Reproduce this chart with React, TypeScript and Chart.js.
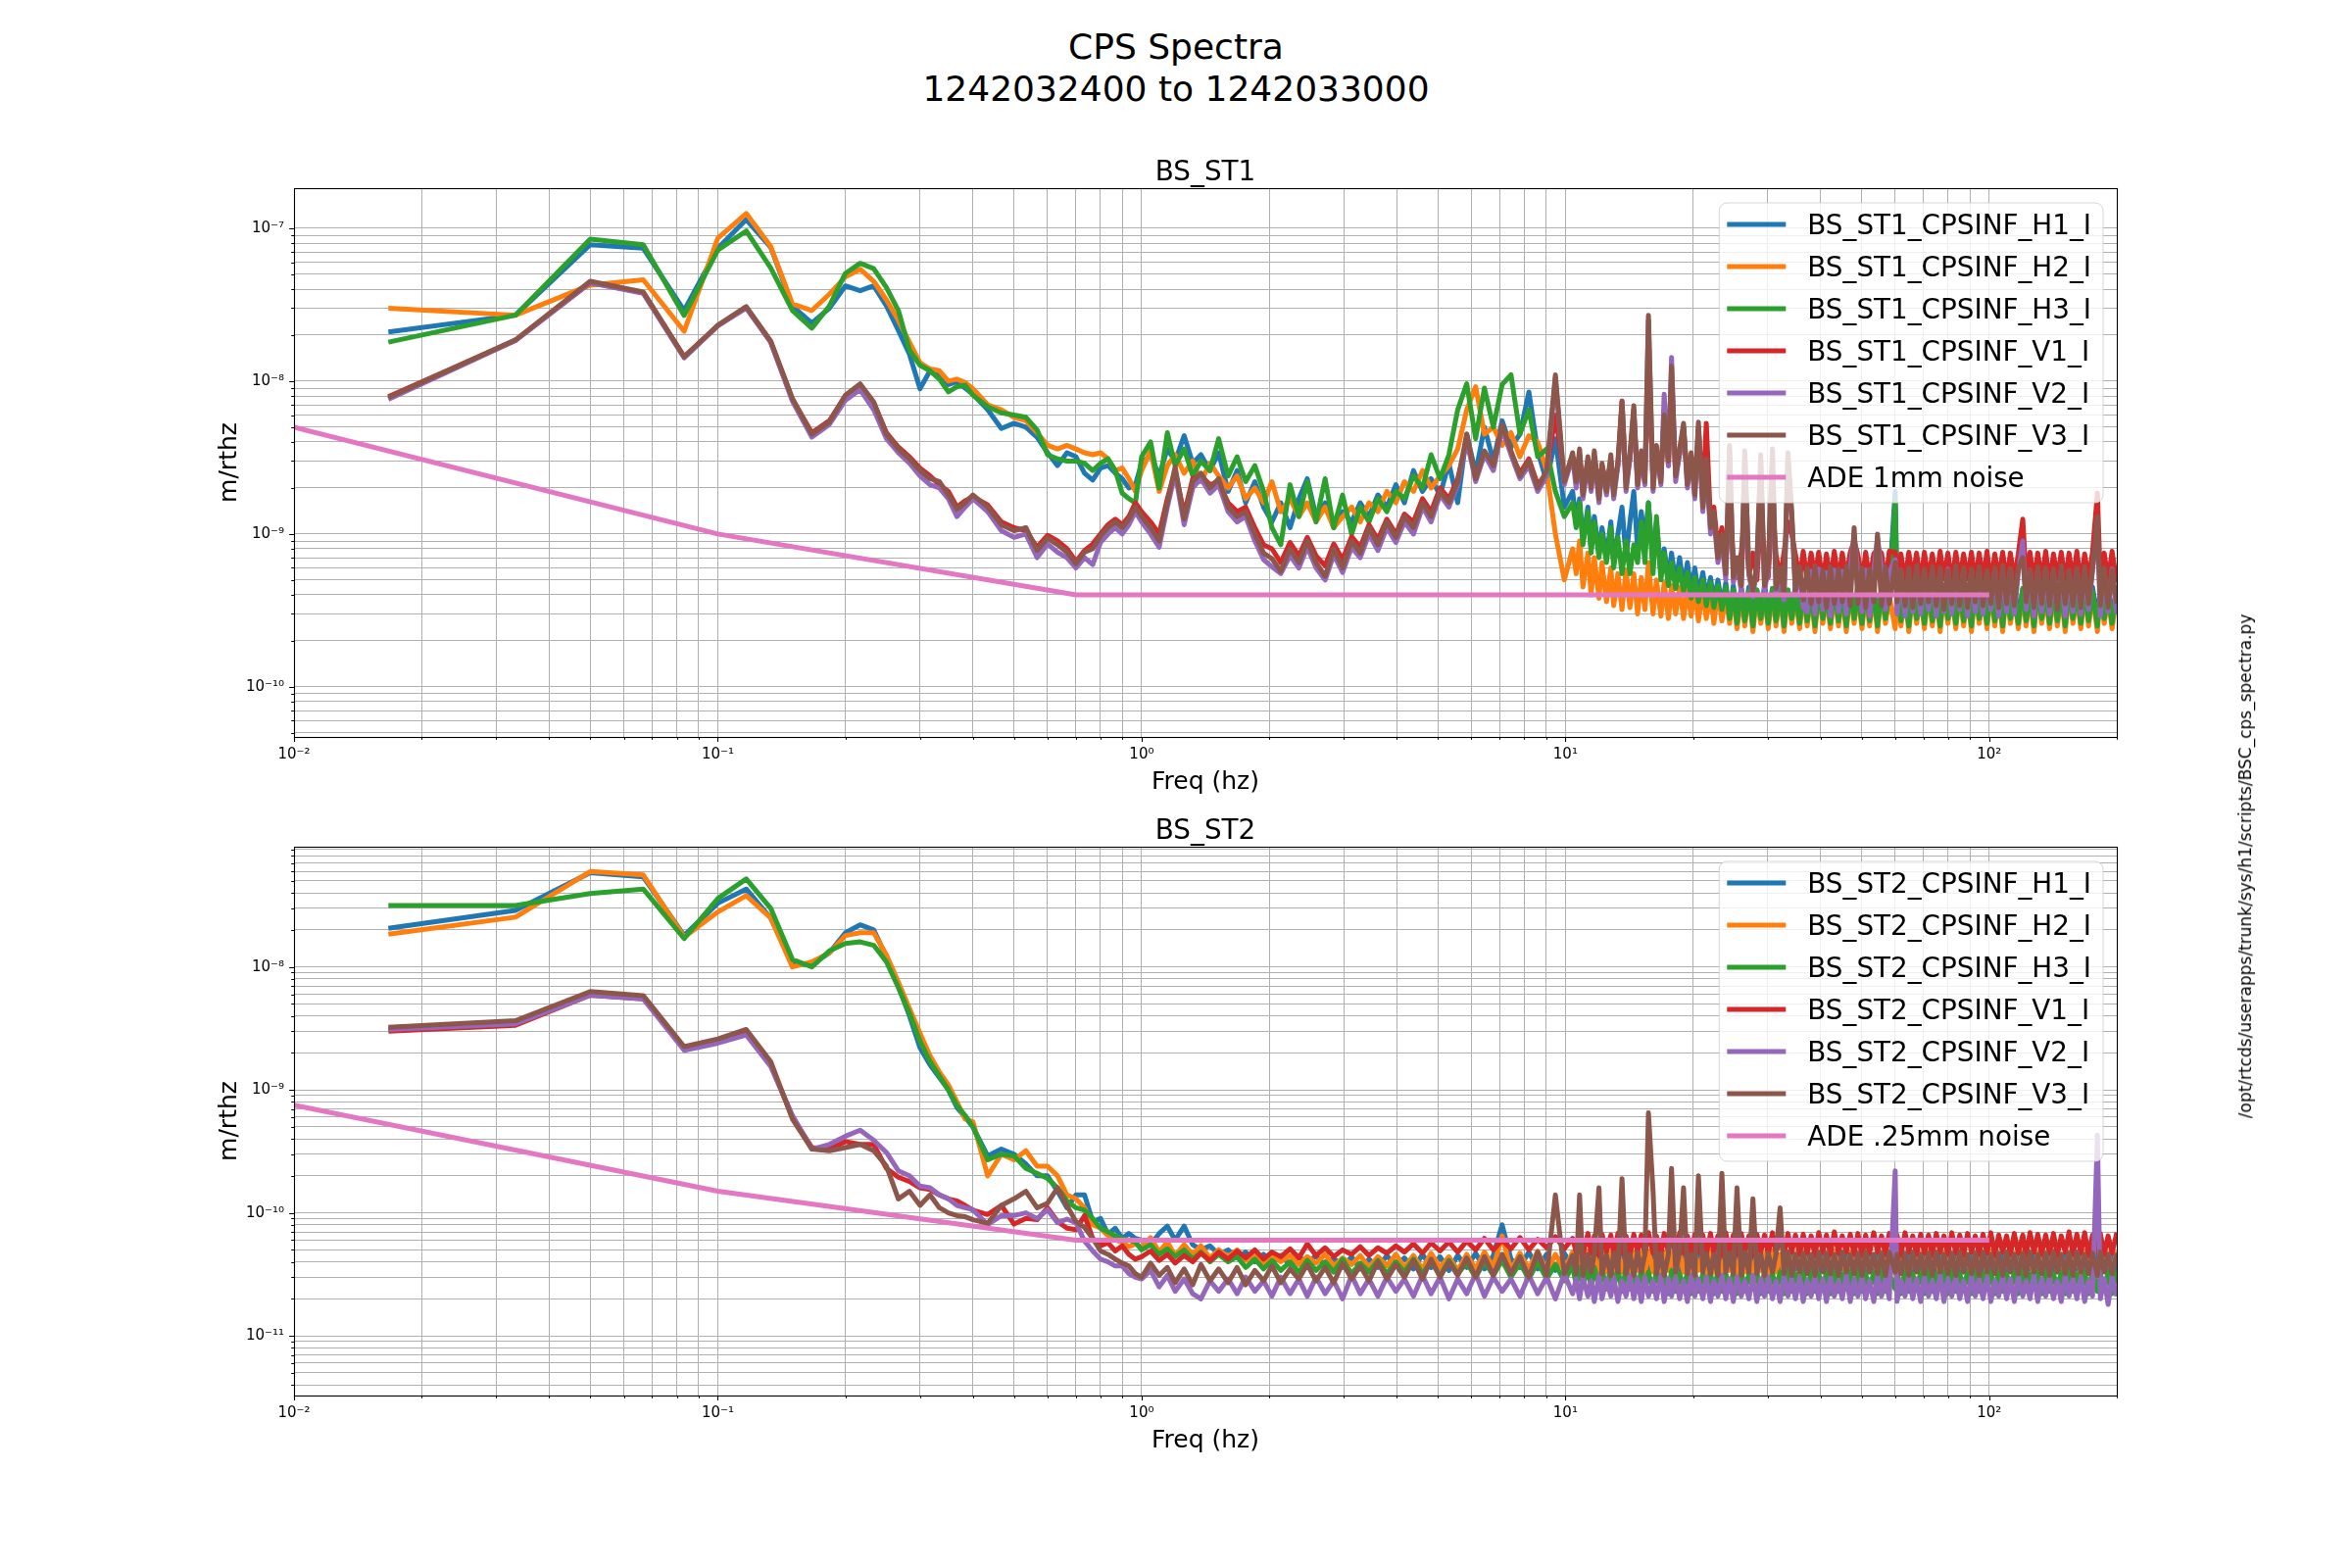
import React, { useEffect, useRef } from "react";
import { Chart, registerables } from "chart.js";

Chart.register(...registerables);

const FONT = '"DejaVu Sans", sans-serif';

// ---------------- data ----------------
// frequency bins, Hz, 0.0167 .. 10.4 (shared by every CPS channel)
const FREQ = [
  0.0167, 0.0333, 0.05, 0.0667, 0.0833, 0.1, 0.1167, 0.1333, 0.15, 0.1667,
  0.1833, 0.2, 0.2167, 0.2333, 0.25, 0.2667, 0.2833, 0.3, 0.3167, 0.3333,
  0.35, 0.3667, 0.3833, 0.4, 0.4333, 0.4667, 0.5, 0.5333, 0.5667, 0.6,
  0.6333, 0.6667, 0.7, 0.7333, 0.7667, 0.8, 0.8333, 0.8667, 0.9, 0.9333, 0.9667,
  1.0, 1.05, 1.1, 1.15, 1.2, 1.26, 1.32, 1.38, 1.45, 1.52,
  1.6, 1.68, 1.76, 1.85, 1.94, 2.03, 2.13, 2.24, 2.35, 2.46,
  2.58, 2.71, 2.84, 2.98, 3.13, 3.28, 3.44, 3.61, 3.79, 3.98,
  4.17, 4.38, 4.6, 4.82, 5.06, 5.31, 5.57, 5.85, 6.14, 6.44,
  6.76, 7.09, 7.44, 7.81, 8.2, 8.6, 9.03, 9.47, 9.94, 10.4,
];
// frequency bins, Hz, 10.6 .. 200
const FREQ_HI = [
  10.6, 10.8, 11.0, 11.3, 11.5, 11.7, 12.0, 12.2, 12.5, 12.8,
  13.0, 13.3, 13.6, 13.9, 14.2, 14.5, 14.8, 15.1, 15.4, 15.7,
  16.1, 16.4, 16.8, 17.1, 17.5, 17.8, 18.2, 18.6, 19.0, 19.4,
  19.8, 20.2, 20.6, 21.1, 21.5, 22.0, 22.4, 22.9, 23.4, 23.9,
  24.4, 24.9, 25.4, 26.0, 26.5, 27.1, 27.7, 28.3, 28.9, 29.5,
  30.1, 30.8, 31.4, 32.1, 32.8, 33.5, 34.2, 34.9, 35.7, 36.4,
  37.2, 38.0, 38.8, 39.6, 40.5, 41.3, 42.2, 43.1, 44.1, 45.0,
  46.0, 47.0, 48.0, 49.0, 50.1, 51.1, 52.2, 53.4, 54.5, 55.7,
  56.9, 58.1, 60.0, 60.6, 61.9, 63.3, 64.6, 66.0, 67.4, 68.9,
  70.3, 71.9, 73.4, 75.0, 76.6, 78.2, 79.9, 81.6, 83.4, 85.2,
  87.0, 88.9, 90.8, 92.7, 94.7, 96.7, 98.8, 100.9, 103.1, 105.3,
  107.6, 109.9, 112.2, 114.6, 117.1, 120.0, 122.2, 124.8, 127.5, 130.2,
  133.0, 135.9, 138.8, 141.8, 144.8, 147.9, 151.1, 154.3, 157.6, 161.0,
  164.5, 168.0, 171.6, 175.3, 180.0, 182.9, 186.8, 190.8, 194.9, 200.0,
];

// ---- BS_ST1 (m/rtHz) ----
const ST1_H1 = [
  2.1e-8, 2.7e-8, 7.8e-8, 7.4e-8, 2.9e-8, 7.4e-8, 1.14e-7, 7.5e-8, 3.1e-8, 2.4e-8,
  3.0e-8, 4.2e-8, 3.9e-8, 4.2e-8, 3.1e-8, 2.15e-8, 1.5e-8, 8.9e-9, 1.17e-8, 1.09e-8,
  9.5e-9, 9.9e-9, 9.0e-9, 8.2e-9, 6.5e-9, 4.9e-9, 5.3e-9, 5.0e-9, 4.3e-9, 3.4e-9,
  2.8e-9, 3.4e-9, 3.2e-9, 2.5e-9, 2.25e-9, 2.7e-9, 2.8e-9, 2.5e-9, 2.3e-9, 2.0e-9, 2.1e-9,
  2.9e-9, 3.3e-9, 2.4e-9, 3.6e-9, 3.0e-9, 4.4e-9, 2.9e-9, 3.3e-9, 2.6e-9, 3.4e-9,
  1.9e-9, 2.6e-9, 1.6e-9, 2.2e-9, 1.5e-9, 1.2e-9, 1.6e-9, 1.1e-9, 1.7e-9, 2.3e-9,
  1.3e-9, 1.6e-9, 1.1e-9, 1.4e-9, 1.2e-9, 1.6e-9, 1.3e-9, 1.8e-9, 1.5e-9, 2.1e-9,
  1.6e-9, 2.6e-9, 1.9e-9, 2.3e-9, 1.8e-9, 2.9e-9, 1.6e-9, 4.5e-9, 2.5e-9, 5.0e-9,
  3.0e-9, 5.5e-9, 3.7e-9, 4.5e-9, 8.5e-9, 3.5e-9, 2.2e-9, 4.2e-9, 1.5e-9, 1.9e-9,
];
const ST1_H1_HI = [
  1.2e-9, 1.7e-9, 9.0e-10, 1.5e-9, 8.0e-10, 1.3e-9, 7.5e-10, 1.1e-9, 7.0e-10, 1.2e-9,
  6.5e-10, 1.0e-9, 1.5e-9, 7.0e-10, 1.2e-9, 1.9e-9, 8.0e-10, 1.4e-9, 9.0e-10, 1.6e-9,
  6.5e-10, 1.2e-9, 5.5e-10, 8.0e-10, 5.0e-10, 7.5e-10, 4.8e-10, 7.0e-10, 4.5e-10, 6.5e-10,
  4.3e-10, 6.0e-10, 4.0e-10, 5.6e-10, 3.8e-10, 5.2e-10, 3.6e-10, 5.0e-10, 3.4e-10, 4.8e-10,
  3.0e-10, 4.6e-10, 2.9e-10, 4.4e-10, 3.1e-10, 4.5e-10, 2.8e-10, 4.3e-10, 3.0e-10, 4.6e-10,
  2.9e-10, 4.4e-10, 3.0e-10, 4.5e-10, 2.8e-10, 4.3e-10, 3.1e-10, 4.6e-10, 2.9e-10, 4.4e-10,
  3.0e-10, 4.5e-10, 2.8e-10, 4.3e-10, 3.1e-10, 4.6e-10, 2.9e-10, 4.4e-10, 3.0e-10, 4.5e-10,
  2.8e-10, 4.3e-10, 3.1e-10, 4.6e-10, 2.9e-10, 4.4e-10, 3.0e-10, 4.5e-10, 2.8e-10, 4.3e-10,
  3.1e-10, 4.6e-10, 1.9e-9, 4.4e-10, 3.0e-10, 4.5e-10, 2.8e-10, 4.3e-10, 3.1e-10, 4.6e-10,
  2.9e-10, 4.4e-10, 3.0e-10, 4.5e-10, 2.8e-10, 4.3e-10, 3.1e-10, 4.6e-10, 2.9e-10, 4.4e-10,
  3.0e-10, 4.5e-10, 2.8e-10, 4.3e-10, 3.1e-10, 4.6e-10, 2.9e-10, 4.4e-10, 3.0e-10, 4.5e-10,
  2.8e-10, 4.3e-10, 3.1e-10, 4.6e-10, 2.9e-10, 4.4e-10, 3.0e-10, 4.5e-10, 2.8e-10, 4.3e-10,
  3.1e-10, 4.6e-10, 2.9e-10, 4.4e-10, 3.0e-10, 4.5e-10, 2.8e-10, 4.3e-10, 3.1e-10, 4.6e-10,
  2.9e-10, 4.4e-10, 3.0e-10, 4.5e-10, 2.8e-10, 4.3e-10, 3.1e-10, 4.6e-10, 2.9e-10, 4.4e-10,
];
const ST1_H2 = [
  3.0e-8, 2.7e-8, 4.25e-8, 4.6e-8, 2.12e-8, 8.6e-8, 1.25e-7, 7.6e-8, 3.2e-8, 2.9e-8,
  3.7e-8, 4.8e-8, 5.4e-8, 4.5e-8, 3.4e-8, 2.5e-8, 1.8e-8, 1.32e-8, 1.2e-8, 1.17e-8,
  1.0e-8, 1.03e-8, 9.8e-9, 8.9e-9, 7.0e-9, 6.5e-9, 5.8e-9, 5.5e-9, 4.6e-9, 3.8e-9,
  3.6e-9, 3.8e-9, 3.6e-9, 3.4e-9, 3.3e-9, 3.4e-9, 3.1e-9, 2.6e-9, 2.7e-9, 2.3e-9, 1.9e-9,
  2.6e-9, 3.5e-9, 1.9e-9, 2.8e-9, 3.3e-9, 2.5e-9, 3.0e-9, 2.2e-9, 2.9e-9, 2.4e-9,
  2.0e-9, 2.4e-9, 1.7e-9, 2.0e-9, 1.6e-9, 2.2e-9, 1.4e-9, 1.7e-9, 1.3e-9, 1.6e-9,
  1.2e-9, 1.5e-9, 1.1e-9, 1.3e-9, 1.5e-9, 1.2e-9, 1.6e-9, 1.4e-9, 1.9e-9, 1.6e-9,
  2.2e-9, 1.9e-9, 2.6e-9, 2.0e-9, 2.4e-9, 2.8e-9, 3.6e-9, 6.5e-9, 9.2e-9, 4.5e-9,
  5.0e-9, 3.8e-9, 4.6e-9, 3.2e-9, 4.4e-9, 4.0e-9, 2.6e-9, 1.0e-9, 5.0e-10, 8.0e-10,
];
const ST1_H2_HI = [
  5.5e-10, 9.0e-10, 4.5e-10, 7.5e-10, 4.0e-10, 7.0e-10, 3.8e-10, 6.5e-10, 3.6e-10, 6.0e-10,
  3.4e-10, 5.5e-10, 3.2e-10, 5.8e-10, 3.3e-10, 5.5e-10, 3.0e-10, 5.2e-10, 3.2e-10, 6.5e-10,
  3.0e-10, 5.0e-10, 2.9e-10, 4.8e-10, 2.8e-10, 4.6e-10, 3.0e-10, 4.5e-10, 2.8e-10, 4.4e-10,
  2.9e-10, 4.3e-10, 2.7e-10, 4.2e-10, 2.8e-10, 4.1e-10, 2.6e-10, 4.2e-10, 2.7e-10, 4.0e-10,
  2.6e-10, 4.1e-10, 2.4e-10, 3.9e-10, 2.5e-10, 4.2e-10, 2.3e-10, 4.0e-10, 2.6e-10, 3.9e-10,
  2.4e-10, 4.1e-10, 2.5e-10, 4.0e-10, 2.3e-10, 4.2e-10, 2.6e-10, 3.9e-10, 2.4e-10, 4.1e-10,
  2.5e-10, 4.0e-10, 2.3e-10, 4.2e-10, 2.6e-10, 3.9e-10, 2.4e-10, 4.1e-10, 2.5e-10, 4.0e-10,
  2.3e-10, 4.2e-10, 2.6e-10, 3.9e-10, 2.4e-10, 4.1e-10, 2.5e-10, 4.0e-10, 2.3e-10, 4.2e-10,
  2.6e-10, 3.9e-10, 2.4e-10, 4.1e-10, 2.5e-10, 4.0e-10, 2.3e-10, 4.2e-10, 2.6e-10, 3.9e-10,
  2.4e-10, 4.1e-10, 2.5e-10, 4.0e-10, 2.3e-10, 4.2e-10, 2.6e-10, 3.9e-10, 2.4e-10, 4.1e-10,
  2.5e-10, 4.0e-10, 2.3e-10, 4.2e-10, 2.6e-10, 3.9e-10, 2.4e-10, 4.1e-10, 2.5e-10, 4.0e-10,
  2.3e-10, 4.2e-10, 2.6e-10, 3.9e-10, 2.4e-10, 4.1e-10, 2.5e-10, 4.0e-10, 2.3e-10, 4.2e-10,
  2.6e-10, 3.9e-10, 2.4e-10, 4.1e-10, 2.5e-10, 4.0e-10, 2.3e-10, 4.2e-10, 2.6e-10, 3.9e-10,
  2.4e-10, 4.1e-10, 2.5e-10, 4.0e-10, 2.3e-10, 4.2e-10, 2.6e-10, 3.9e-10, 2.4e-10, 4.1e-10,
];
const ST1_H3 = [
  1.8e-8, 2.7e-8, 8.5e-8, 7.8e-8, 2.69e-8, 7.2e-8, 9.6e-8, 5.5e-8, 2.9e-8, 2.22e-8,
  3.1e-8, 5.07e-8, 5.9e-8, 5.45e-8, 4.1e-8, 2.9e-8, 1.6e-8, 1.27e-8, 1.17e-8, 1.03e-8,
  8.5e-9, 9.2e-9, 9.4e-9, 8.1e-9, 6.8e-9, 6.2e-9, 6.0e-9, 5.8e-9, 4.8e-9, 3.3e-9,
  3.1e-9, 3.0e-9, 3.0e-9, 2.9e-9, 2.6e-9, 2.9e-9, 3.1e-9, 2.6e-9, 1.85e-9, 1.7e-9, 1.6e-9,
  3.2e-9, 4.0e-9, 2.0e-9, 4.6e-9, 2.8e-9, 3.6e-9, 2.4e-9, 3.0e-9, 2.6e-9, 4.2e-9,
  2.4e-9, 3.2e-9, 2.2e-9, 2.8e-9, 1.9e-9, 1.1e-9, 8.5e-10, 2.1e-9, 1.3e-9, 2.2e-9,
  1.2e-9, 2.3e-9, 1.1e-9, 1.8e-9, 1.0e-9, 1.5e-9, 1.2e-9, 1.7e-9, 1.4e-9, 1.9e-9,
  1.7e-9, 2.4e-9, 2.0e-9, 3.3e-9, 2.3e-9, 3.3e-9, 6.5e-9, 9.6e-9, 4.2e-9, 9.0e-9,
  5.0e-9, 9.5e-9, 1.1e-8, 4.5e-9, 6.5e-9, 3.2e-9, 3.6e-9, 1.9e-9, 1.3e-9, 1.6e-9,
];
const ST1_H3_HI = [
  1.1e-9, 1.6e-9, 8.5e-10, 1.4e-9, 7.5e-10, 1.2e-9, 7.0e-10, 1.0e-9, 6.5e-10, 1.1e-9,
  6.0e-10, 9.5e-10, 5.5e-10, 9.0e-10, 5.5e-10, 8.5e-10, 6.5e-10, 1.2e-9, 6.5e-10, 1.6e-9,
  5.5e-10, 1.3e-9, 5.0e-10, 7.5e-10, 4.6e-10, 6.5e-10, 4.4e-10, 6.0e-10, 4.2e-10, 5.6e-10,
  3.8e-10, 5.2e-10, 3.6e-10, 5.0e-10, 3.4e-10, 4.8e-10, 3.3e-10, 4.6e-10, 3.2e-10, 4.5e-10,
  2.8e-10, 4.3e-10, 2.6e-10, 4.4e-10, 2.7e-10, 4.2e-10, 2.5e-10, 4.3e-10, 2.8e-10, 4.1e-10,
  2.6e-10, 4.4e-10, 2.7e-10, 4.2e-10, 2.5e-10, 4.3e-10, 2.8e-10, 4.1e-10, 2.6e-10, 4.4e-10,
  2.7e-10, 4.2e-10, 2.5e-10, 4.3e-10, 2.8e-10, 4.1e-10, 2.6e-10, 4.4e-10, 2.7e-10, 4.2e-10,
  2.5e-10, 4.3e-10, 2.8e-10, 4.1e-10, 2.6e-10, 4.4e-10, 2.7e-10, 4.2e-10, 2.5e-10, 4.3e-10,
  2.8e-10, 4.1e-10, 1.6e-9, 4.4e-10, 2.7e-10, 4.2e-10, 2.5e-10, 4.3e-10, 2.8e-10, 4.1e-10,
  2.6e-10, 4.4e-10, 2.7e-10, 4.2e-10, 2.5e-10, 4.3e-10, 2.8e-10, 4.1e-10, 2.6e-10, 4.4e-10,
  2.7e-10, 4.2e-10, 2.5e-10, 4.3e-10, 2.8e-10, 4.1e-10, 2.6e-10, 4.4e-10, 2.7e-10, 4.2e-10,
  2.5e-10, 4.3e-10, 2.8e-10, 4.1e-10, 2.6e-10, 4.4e-10, 2.7e-10, 4.2e-10, 2.5e-10, 4.3e-10,
  2.8e-10, 4.1e-10, 2.6e-10, 4.4e-10, 2.7e-10, 4.2e-10, 2.5e-10, 4.3e-10, 2.8e-10, 4.1e-10,
  2.6e-10, 4.4e-10, 2.7e-10, 4.2e-10, 2.5e-10, 4.3e-10, 2.8e-10, 4.1e-10, 2.6e-10, 4.4e-10,
];
const ST1_V1 = [
  7.9e-9, 1.85e-8, 4.4e-8, 3.8e-8, 1.45e-8, 2.3e-8, 3.05e-8, 1.8e-8, 7.6e-9, 4.6e-9,
  5.5e-9, 8.0e-9, 9.3e-9, 7.2e-9, 4.6e-9, 3.7e-9, 3.2e-9, 2.7e-9, 2.4e-9, 2.1e-9,
  1.9e-9, 1.5e-9, 1.65e-9, 1.75e-9, 1.55e-9, 1.2e-9, 1.1e-9, 1.05e-9, 8.2e-10, 9.8e-10,
  9.0e-10, 8.0e-10, 6.6e-10, 7.8e-10, 8.6e-10, 1.0e-9, 1.15e-9, 1.25e-9, 1.15e-9, 1.3e-9, 1.6e-9,
  1.4e-9, 1.2e-9, 1.0e-9, 1.7e-9, 2.6e-9, 1.35e-9, 2.3e-9, 2.4e-9, 2.1e-9, 2.2e-9,
  1.6e-9, 1.4e-9, 1.5e-9, 1.1e-9, 8.5e-10, 8.0e-10, 6.5e-10, 8.8e-10, 7.2e-10, 9.5e-10,
  7.2e-10, 6.2e-10, 8.6e-10, 6.8e-10, 9.6e-10, 8.2e-10, 1.15e-9, 9.2e-10, 1.25e-9, 1.0e-9,
  1.35e-9, 1.2e-9, 1.7e-9, 1.4e-9, 2.0e-9, 1.7e-9, 2.3e-9, 4.0e-9, 2.4e-9, 3.3e-9,
  2.9e-9, 4.8e-9, 3.4e-9, 2.5e-9, 3.1e-9, 2.1e-9, 2.5e-9, 6.0e-9, 2.3e-9, 3.2e-9,
];
const ST1_V1_HI = [
  2.4e-9, 3.3e-9, 2.0e-9, 3.0e-9, 2.2e-9, 3.2e-9, 2.0e-9, 2.8e-9, 2.1e-9, 3.0e-9,
  2.0e-9, 2.8e-9, 7.4e-9, 2.2e-9, 3.1e-9, 6.0e-9, 2.3e-9, 3.2e-9, 2.4e-9, 1.2e-8,
  2.2e-9, 3.5e-9, 2.4e-9, 6.0e-9, 2.8e-9, 9.0e-9, 2.5e-9, 3.3e-9, 5.0e-9, 2.3e-9,
  3.2e-9, 2.0e-9, 5.0e-9, 1.7e-9, 5.3e-9, 1.2e-9, 1.5e-9, 8.0e-10, 1.1e-9, 6.5e-10,
  1.5e-9, 7.0e-10, 5.2e-10, 7.6e-10, 1.4e-9, 5.4e-10, 7.5e-10, 5.0e-10, 1.3e-9, 7.3e-10,
  5.2e-10, 1.6e-9, 7.4e-10, 5.0e-10, 7.6e-10, 1.2e-9, 1.0e-9, 7.3e-10, 5.1e-10, 7.7e-10,
  4.9e-10, 7.5e-10, 5.2e-10, 7.6e-10, 4.8e-10, 7.4e-10, 5.0e-10, 7.7e-10, 4.9e-10, 7.5e-10,
  5.1e-10, 7.6e-10, 9.0e-10, 7.3e-10, 4.9e-10, 7.6e-10, 5.0e-10, 7.4e-10, 8.0e-10, 7.5e-10,
  4.8e-10, 7.7e-10, 7.6e-10, 5.0e-10, 7.4e-10, 4.9e-10, 7.6e-10, 5.1e-10, 7.5e-10, 4.8e-10,
  7.6e-10, 5.0e-10, 7.4e-10, 4.9e-10, 7.7e-10, 5.1e-10, 7.5e-10, 4.8e-10, 7.6e-10, 5.0e-10,
  7.4e-10, 5.1e-10, 7.6e-10, 4.9e-10, 7.5e-10, 5.0e-10, 7.7e-10, 4.8e-10, 7.4e-10, 5.1e-10,
  7.6e-10, 4.9e-10, 7.5e-10, 5.0e-10, 7.4e-10, 1.25e-9, 5.1e-10, 7.6e-10, 4.9e-10, 7.5e-10,
  5.0e-10, 7.7e-10, 4.8e-10, 7.4e-10, 5.1e-10, 7.6e-10, 4.9e-10, 7.5e-10, 5.0e-10, 7.7e-10,
  4.8e-10, 7.4e-10, 5.1e-10, 7.6e-10, 1.85e-9, 4.9e-10, 7.5e-10, 5.0e-10, 7.7e-10, 4.8e-10,
];
const ST1_V2 = [
  7.6e-9, 1.84e-8, 4.4e-8, 3.75e-8, 1.42e-8, 2.3e-8, 3.0e-8, 1.8e-8, 7.4e-9, 4.3e-9,
  5.2e-9, 7.5e-9, 8.8e-9, 6.5e-9, 4.2e-9, 3.4e-9, 2.9e-9, 2.4e-9, 2.1e-9, 2.0e-9,
  1.7e-9, 1.3e-9, 1.5e-9, 1.7e-9, 1.4e-9, 1.05e-9, 9.5e-10, 1.0e-9, 7.0e-10, 8.6e-10,
  7.6e-10, 7.0e-10, 6.0e-10, 7.0e-10, 6.3e-10, 8.8e-10, 1.0e-9, 1.1e-9, 1.0e-9, 1.15e-9, 1.4e-9,
  1.2e-9, 1.0e-9, 8.2e-10, 1.5e-9, 2.5e-9, 1.15e-9, 2.0e-9, 2.3e-9, 1.85e-9, 2.1e-9,
  1.4e-9, 1.2e-9, 1.3e-9, 9.0e-10, 6.8e-10, 6.1e-10, 5.5e-10, 7.2e-10, 6.0e-10, 8.2e-10,
  6.0e-10, 5.0e-10, 7.3e-10, 5.6e-10, 8.2e-10, 7.0e-10, 1.0e-9, 7.8e-10, 1.1e-9, 8.8e-10,
  1.2e-9, 1.0e-9, 1.5e-9, 1.2e-9, 1.8e-9, 1.5e-9, 2.1e-9, 4.2e-9, 2.2e-9, 3.3e-9,
  2.6e-9, 4.9e-9, 3.3e-9, 2.3e-9, 2.8e-9, 1.9e-9, 2.4e-9, 1.05e-8, 2.1e-9, 3.2e-9,
];
const ST1_V2_HI = [
  2.0e-9, 3.3e-9, 1.7e-9, 2.9e-9, 1.9e-9, 3.2e-9, 1.6e-9, 2.7e-9, 1.8e-9, 3.0e-9,
  1.7e-9, 2.8e-9, 7.0e-9, 1.9e-9, 3.1e-9, 6.5e-9, 2.0e-9, 3.2e-9, 2.1e-9, 2.5e-8,
  1.9e-9, 3.6e-9, 2.1e-9, 8.2e-9, 2.8e-9, 1.43e-8, 2.2e-9, 3.4e-9, 5.0e-9, 2.0e-9,
  3.2e-9, 1.7e-9, 5.0e-9, 1.4e-9, 2.8e-9, 1.0e-9, 1.3e-9, 6.5e-10, 9.0e-10, 5.0e-10,
  3.5e-9, 4.8e-10, 6.5e-10, 4.2e-10, 3.3e-9, 5.4e-10, 3.9e-10, 6.1e-10, 3.0e-9, 4.3e-10,
  5.8e-10, 3.1e-9, 4.0e-10, 5.7e-10, 3.7e-10, 3.2e-9, 1.3e-9, 4.0e-10, 5.8e-10, 3.3e-10,
  3.1e-10, 5.7e-10, 3.0e-10, 5.9e-10, 3.2e-10, 5.6e-10, 2.9e-10, 5.8e-10, 3.1e-10, 5.7e-10,
  3.0e-10, 5.9e-10, 1.0e-9, 5.6e-10, 3.1e-10, 5.8e-10, 2.9e-10, 5.7e-10, 9.5e-10, 5.9e-10,
  3.2e-10, 5.6e-10, 6.8e-10, 3.0e-10, 5.8e-10, 2.9e-10, 5.7e-10, 3.1e-10, 5.9e-10, 3.0e-10,
  5.6e-10, 3.2e-10, 5.8e-10, 2.9e-10, 5.7e-10, 3.1e-10, 5.9e-10, 3.0e-10, 5.6e-10, 3.2e-10,
  5.8e-10, 2.9e-10, 5.7e-10, 3.1e-10, 5.9e-10, 3.0e-10, 5.6e-10, 3.2e-10, 5.8e-10, 2.9e-10,
  5.7e-10, 3.1e-10, 5.9e-10, 3.0e-10, 5.6e-10, 9.0e-10, 3.2e-10, 5.8e-10, 2.9e-10, 5.7e-10,
  3.1e-10, 5.9e-10, 3.0e-10, 5.6e-10, 3.2e-10, 5.8e-10, 2.9e-10, 5.7e-10, 3.1e-10, 5.9e-10,
  3.0e-10, 5.6e-10, 3.2e-10, 5.8e-10, 1.1e-9, 2.9e-10, 5.7e-10, 3.1e-10, 5.9e-10, 3.0e-10,
];
const ST1_V3 = [
  7.8e-9, 1.86e-8, 4.5e-8, 3.83e-8, 1.44e-8, 2.32e-8, 3.07e-8, 1.83e-8, 7.7e-9, 4.5e-9,
  5.4e-9, 8.1e-9, 9.6e-9, 7.3e-9, 4.5e-9, 3.6e-9, 3.1e-9, 2.6e-9, 2.3e-9, 2.2e-9,
  1.8e-9, 1.45e-9, 1.6e-9, 1.8e-9, 1.5e-9, 1.15e-9, 1.05e-9, 1.1e-9, 7.8e-10, 9.4e-10,
  8.5e-10, 7.6e-10, 6.4e-10, 7.6e-10, 8.0e-10, 9.7e-10, 1.1e-9, 1.2e-9, 1.1e-9, 1.25e-9, 1.5e-9,
  1.3e-9, 1.1e-9, 9.0e-10, 1.6e-9, 2.75e-9, 1.25e-9, 2.2e-9, 2.5e-9, 2.0e-9, 2.3e-9,
  1.5e-9, 1.3e-9, 1.4e-9, 1.0e-9, 7.5e-10, 6.9e-10, 5.7e-10, 8.0e-10, 6.5e-10, 9.0e-10,
  6.5e-10, 5.3e-10, 8.0e-10, 6.0e-10, 9.0e-10, 7.5e-10, 1.1e-9, 8.5e-10, 1.2e-9, 9.5e-10,
  1.3e-9, 1.1e-9, 1.6e-9, 1.3e-9, 1.9e-9, 1.6e-9, 2.2e-9, 4.5e-9, 2.3e-9, 3.5e-9,
  2.8e-9, 5.2e-9, 3.5e-9, 2.4e-9, 3.0e-9, 2.0e-9, 2.6e-9, 1.1e-8, 2.2e-9, 3.4e-9,
];
const ST1_V3_HI = [
  2.2e-9, 3.6e-9, 1.8e-9, 3.2e-9, 2.0e-9, 3.5e-9, 1.7e-9, 2.9e-9, 1.9e-9, 3.3e-9,
  1.8e-9, 3.0e-9, 7.4e-9, 2.0e-9, 3.4e-9, 6.9e-9, 2.1e-9, 3.5e-9, 2.2e-9, 2.7e-8,
  2.0e-9, 3.8e-9, 2.2e-9, 6.0e-9, 3.0e-9, 1.25e-8, 2.4e-9, 3.6e-9, 5.3e-9, 2.1e-9,
  3.4e-9, 1.8e-9, 5.4e-9, 1.5e-9, 3.1e-9, 1.1e-9, 1.4e-9, 7.0e-10, 1.0e-9, 5.5e-10,
  3.8e-9, 5.2e-10, 7.0e-10, 4.6e-10, 3.5e-9, 5.8e-10, 4.2e-10, 6.5e-10, 3.3e-9, 4.6e-10,
  6.2e-10, 3.6e-9, 4.4e-10, 6.0e-10, 4.0e-10, 3.4e-9, 1.4e-9, 4.3e-10, 6.1e-10, 3.7e-10,
  6.0e-10, 3.5e-10, 6.2e-10, 3.6e-10, 5.8e-10, 3.3e-10, 6.1e-10, 3.5e-10, 5.9e-10, 3.6e-10,
  6.2e-10, 3.4e-10, 1.1e-9, 3.5e-10, 6.0e-10, 3.3e-10, 5.9e-10, 3.6e-10, 1.0e-9, 3.4e-10,
  6.1e-10, 3.5e-10, 6.5e-10, 3.6e-10, 5.8e-10, 3.4e-10, 6.0e-10, 3.3e-10, 6.2e-10, 3.5e-10,
  5.9e-10, 3.6e-10, 6.1e-10, 3.4e-10, 6.0e-10, 3.2e-10, 5.8e-10, 3.5e-10, 6.2e-10, 3.4e-10,
  6.0e-10, 3.3e-10, 5.9e-10, 3.6e-10, 6.1e-10, 3.4e-10, 5.8e-10, 3.5e-10, 6.0e-10, 3.3e-10,
  6.2e-10, 3.5e-10, 5.9e-10, 3.4e-10, 6.0e-10, 7.0e-10, 3.6e-10, 5.8e-10, 3.3e-10, 6.1e-10,
  3.5e-10, 6.0e-10, 3.4e-10, 5.9e-10, 3.2e-10, 6.2e-10, 3.5e-10, 5.8e-10, 3.4e-10, 6.0e-10,
  3.3e-10, 6.1e-10, 3.5e-10, 5.9e-10, 1.3e-9, 3.4e-10, 6.0e-10, 3.3e-10, 5.8e-10, 3.5e-10,
];

// ---- BS_ST2 (m/rtHz) ----
const ST2_H1 = [
  2.06e-8, 2.88e-8, 5.85e-8, 5.4e-8, 1.8e-8, 3.3e-8, 4.3e-8, 2.5e-8, 1.05e-8, 1.05e-8,
  1.3e-8, 1.9e-8, 2.2e-8, 2.0e-8, 1.2e-8, 7.0e-9, 4.0e-9, 2.2e-9, 1.6e-9, 1.26e-9,
  1.0e-9, 7.2e-10, 6.0e-10, 5.0e-10, 2.9e-10, 3.3e-10, 3.0e-10, 2.5e-10, 2.0e-10, 2.0e-10,
  1.5e-10, 1.1e-10, 1.4e-10, 1.4e-10, 8.5e-11, 9.0e-11, 6.7e-11, 7.5e-11, 6.2e-11, 6.8e-11, 6.2e-11,
  6.0e-11, 5.5e-11, 6.8e-11, 7.8e-11, 6.0e-11, 7.8e-11, 5.5e-11, 5.0e-11, 5.4e-11, 4.6e-11,
  5.0e-11, 4.3e-11, 4.8e-11, 4.0e-11, 4.6e-11, 3.9e-11, 4.5e-11, 3.8e-11, 4.4e-11, 3.9e-11,
  4.5e-11, 3.7e-11, 4.3e-11, 3.6e-11, 4.4e-11, 3.5e-11, 4.2e-11, 3.6e-11, 4.5e-11, 3.7e-11,
  4.3e-11, 3.5e-11, 4.6e-11, 3.6e-11, 4.4e-11, 3.4e-11, 4.5e-11, 3.6e-11, 4.7e-11, 3.5e-11,
  4.5e-11, 8.0e-11, 4.2e-11, 3.6e-11, 4.8e-11, 3.5e-11, 4.6e-11, 3.4e-11, 4.7e-11, 3.6e-11,
];
const ST2_H1_HI = [
  4.5e-11, 3.3e-11, 4.8e-11, 3.4e-11, 4.6e-11, 3.2e-11, 4.9e-11, 3.3e-11, 4.5e-11, 3.4e-11,
  4.7e-11, 3.2e-11, 4.6e-11, 3.4e-11, 4.8e-11, 3.3e-11, 4.5e-11, 3.5e-11, 4.7e-11, 3.2e-11,
  4.6e-11, 3.4e-11, 4.8e-11, 3.3e-11, 4.5e-11, 3.5e-11, 4.7e-11, 3.2e-11, 4.6e-11, 3.4e-11,
  4.8e-11, 3.3e-11, 4.5e-11, 3.4e-11, 4.7e-11, 3.2e-11, 4.6e-11, 3.5e-11, 4.8e-11, 3.3e-11,
  4.5e-11, 3.4e-11, 4.7e-11, 3.3e-11, 4.6e-11, 3.2e-11, 4.8e-11, 3.4e-11, 4.5e-11, 3.5e-11,
  4.7e-11, 3.3e-11, 4.6e-11, 3.4e-11, 4.8e-11, 3.2e-11, 4.5e-11, 3.5e-11, 4.7e-11, 3.3e-11,
  4.6e-11, 3.4e-11, 4.8e-11, 3.3e-11, 4.5e-11, 3.2e-11, 4.7e-11, 3.4e-11, 4.6e-11, 3.5e-11,
  4.8e-11, 3.3e-11, 4.5e-11, 3.4e-11, 4.7e-11, 3.2e-11, 4.6e-11, 3.5e-11, 4.8e-11, 3.3e-11,
  4.5e-11, 3.4e-11, 6.0e-11, 3.3e-11, 4.6e-11, 3.2e-11, 4.8e-11, 3.4e-11, 4.5e-11, 3.5e-11,
  4.7e-11, 3.3e-11, 4.6e-11, 3.4e-11, 4.8e-11, 3.2e-11, 4.5e-11, 3.5e-11, 4.7e-11, 3.3e-11,
  4.6e-11, 3.4e-11, 4.8e-11, 3.3e-11, 4.5e-11, 3.2e-11, 4.7e-11, 3.4e-11, 4.6e-11, 3.5e-11,
  4.8e-11, 3.3e-11, 4.5e-11, 3.4e-11, 4.7e-11, 3.2e-11, 4.6e-11, 3.5e-11, 4.8e-11, 3.3e-11,
  4.5e-11, 3.4e-11, 4.7e-11, 3.3e-11, 4.6e-11, 3.2e-11, 4.8e-11, 3.4e-11, 4.5e-11, 3.5e-11,
  4.7e-11, 3.3e-11, 4.6e-11, 3.4e-11, 4.8e-11, 3.2e-11, 4.5e-11, 3.5e-11, 4.7e-11, 3.3e-11,
];
const ST2_H2 = [
  1.85e-8, 2.54e-8, 5.97e-8, 5.6e-8, 1.75e-8, 2.8e-8, 3.8e-8, 2.5e-8, 1.0e-8, 1.1e-8,
  1.3e-8, 1.8e-8, 1.9e-8, 1.9e-8, 1.25e-8, 7.5e-9, 4.6e-9, 2.9e-9, 1.9e-9, 1.4e-9,
  1.1e-9, 8.0e-10, 5.8e-10, 5.5e-10, 2.0e-10, 3.0e-10, 2.7e-10, 3.2e-10, 2.4e-10, 2.4e-10,
  2.0e-10, 1.4e-10, 1.3e-10, 1.1e-10, 8.0e-11, 7.5e-11, 6.5e-11, 6.0e-11, 5.8e-11, 5.3e-11, 5.6e-11,
  5.2e-11, 6.3e-11, 4.8e-11, 5.8e-11, 4.5e-11, 5.5e-11, 4.6e-11, 5.4e-11, 4.3e-11, 5.0e-11,
  4.4e-11, 5.0e-11, 4.1e-11, 4.7e-11, 3.9e-11, 4.6e-11, 4.0e-11, 4.5e-11, 3.8e-11, 4.4e-11,
  3.9e-11, 4.6e-11, 3.7e-11, 4.3e-11, 3.8e-11, 4.5e-11, 3.6e-11, 4.4e-11, 3.7e-11, 4.6e-11,
  3.6e-11, 4.5e-11, 3.5e-11, 4.7e-11, 3.6e-11, 4.4e-11, 3.4e-11, 4.6e-11, 3.5e-11, 4.8e-11,
  3.6e-11, 6.5e-11, 3.4e-11, 4.7e-11, 3.5e-11, 4.9e-11, 3.3e-11, 4.6e-11, 3.4e-11, 4.8e-11,
];
const ST2_H2_HI = [
  3.3e-11, 4.7e-11, 3.2e-11, 4.9e-11, 3.4e-11, 4.6e-11, 3.1e-11, 4.8e-11, 3.3e-11, 4.7e-11,
  3.2e-11, 4.9e-11, 3.3e-11, 4.6e-11, 3.1e-11, 4.8e-11, 3.4e-11, 4.7e-11, 3.2e-11, 4.9e-11,
  3.3e-11, 4.6e-11, 3.1e-11, 4.8e-11, 3.4e-11, 4.7e-11, 3.2e-11, 4.9e-11, 3.3e-11, 4.6e-11,
  3.1e-11, 4.8e-11, 3.4e-11, 4.7e-11, 3.2e-11, 4.9e-11, 3.3e-11, 4.6e-11, 3.1e-11, 4.8e-11,
  3.4e-11, 4.7e-11, 3.2e-11, 4.9e-11, 3.3e-11, 4.6e-11, 3.1e-11, 4.8e-11, 3.4e-11, 4.7e-11,
  3.2e-11, 4.9e-11, 3.3e-11, 4.6e-11, 3.1e-11, 4.8e-11, 3.4e-11, 4.7e-11, 3.2e-11, 4.9e-11,
  3.3e-11, 4.6e-11, 3.1e-11, 4.8e-11, 3.4e-11, 4.7e-11, 3.2e-11, 4.9e-11, 3.3e-11, 4.6e-11,
  3.1e-11, 4.8e-11, 3.4e-11, 4.7e-11, 3.2e-11, 4.9e-11, 3.3e-11, 4.6e-11, 3.1e-11, 4.8e-11,
  3.4e-11, 4.7e-11, 3.2e-11, 4.9e-11, 3.3e-11, 4.6e-11, 3.1e-11, 4.8e-11, 3.4e-11, 4.7e-11,
  3.2e-11, 4.9e-11, 3.3e-11, 4.6e-11, 3.1e-11, 4.8e-11, 3.4e-11, 4.7e-11, 3.2e-11, 4.9e-11,
  3.3e-11, 4.6e-11, 3.1e-11, 4.8e-11, 3.4e-11, 4.7e-11, 3.2e-11, 4.9e-11, 3.3e-11, 4.6e-11,
  3.1e-11, 4.8e-11, 3.4e-11, 4.7e-11, 3.2e-11, 4.9e-11, 3.3e-11, 4.6e-11, 3.1e-11, 4.8e-11,
  3.4e-11, 4.7e-11, 3.2e-11, 4.9e-11, 3.3e-11, 4.6e-11, 3.1e-11, 4.8e-11, 3.4e-11, 4.7e-11,
  3.2e-11, 4.9e-11, 3.3e-11, 4.6e-11, 3.1e-11, 4.8e-11, 3.4e-11, 4.7e-11, 3.2e-11, 4.9e-11,
];
const ST2_H3 = [
  3.16e-8, 3.16e-8, 3.96e-8, 4.3e-8, 1.7e-8, 3.6e-8, 5.2e-8, 3.0e-8, 1.15e-8, 1.0e-8,
  1.35e-8, 1.55e-8, 1.6e-8, 1.5e-8, 1.1e-8, 6.8e-9, 4.2e-9, 2.5e-9, 1.7e-9, 1.3e-9,
  1.0e-9, 7.5e-10, 6.2e-10, 5.0e-10, 2.7e-10, 3.0e-10, 2.9e-10, 2.3e-10, 2.1e-10, 1.9e-10,
  1.6e-10, 1.25e-10, 1.1e-10, 1.05e-10, 9.0e-11, 7.5e-11, 7.0e-11, 6.5e-11, 6.2e-11, 6.0e-11, 5.8e-11,
  5.0e-11, 5.5e-11, 4.6e-11, 5.1e-11, 4.4e-11, 5.0e-11, 4.2e-11, 4.8e-11, 4.0e-11, 4.6e-11,
  4.0e-11, 4.4e-11, 3.6e-11, 4.2e-11, 3.5e-11, 4.1e-11, 3.4e-11, 4.0e-11, 3.3e-11, 4.1e-11,
  3.4e-11, 4.0e-11, 3.3e-11, 4.2e-11, 3.2e-11, 3.9e-11, 3.3e-11, 4.1e-11, 3.2e-11, 4.0e-11,
  3.3e-11, 4.2e-11, 3.2e-11, 4.0e-11, 3.1e-11, 4.1e-11, 3.2e-11, 3.9e-11, 3.0e-11, 4.0e-11,
  3.1e-11, 4.1e-11, 3.0e-11, 3.9e-11, 2.9e-11, 4.0e-11, 2.9e-11, 3.8e-11, 2.8e-11, 3.7e-11,
];
const ST2_H3_HI = [
  2.6e-11, 3.6e-11, 2.5e-11, 3.7e-11, 2.4e-11, 3.6e-11, 2.5e-11, 3.5e-11, 2.4e-11, 3.6e-11,
  2.5e-11, 3.5e-11, 2.3e-11, 3.6e-11, 2.4e-11, 3.4e-11, 2.3e-11, 3.5e-11, 2.4e-11, 3.3e-11,
  2.3e-11, 3.4e-11, 2.4e-11, 3.3e-11, 2.2e-11, 3.4e-11, 2.3e-11, 3.2e-11, 2.4e-11, 3.3e-11,
  2.2e-11, 3.4e-11, 2.3e-11, 3.2e-11, 2.4e-11, 3.3e-11, 2.2e-11, 3.4e-11, 2.3e-11, 3.2e-11,
  2.4e-11, 3.3e-11, 2.2e-11, 3.4e-11, 2.3e-11, 3.2e-11, 2.4e-11, 3.3e-11, 2.2e-11, 3.4e-11,
  2.3e-11, 3.2e-11, 2.4e-11, 3.3e-11, 2.2e-11, 3.4e-11, 2.3e-11, 3.2e-11, 2.4e-11, 3.3e-11,
  2.2e-11, 3.4e-11, 2.3e-11, 3.2e-11, 2.4e-11, 3.3e-11, 2.2e-11, 3.4e-11, 2.3e-11, 3.2e-11,
  2.4e-11, 3.3e-11, 2.2e-11, 3.4e-11, 2.3e-11, 3.2e-11, 2.4e-11, 3.3e-11, 2.2e-11, 3.4e-11,
  2.3e-11, 3.2e-11, 2.4e-11, 3.3e-11, 2.2e-11, 3.4e-11, 2.3e-11, 3.2e-11, 2.4e-11, 3.3e-11,
  2.2e-11, 3.4e-11, 2.3e-11, 3.2e-11, 2.4e-11, 3.3e-11, 2.2e-11, 3.4e-11, 2.3e-11, 3.2e-11,
  2.4e-11, 3.3e-11, 2.2e-11, 3.4e-11, 2.3e-11, 3.2e-11, 2.4e-11, 3.3e-11, 2.2e-11, 3.4e-11,
  2.3e-11, 3.2e-11, 2.4e-11, 3.3e-11, 2.2e-11, 3.4e-11, 2.3e-11, 3.2e-11, 2.4e-11, 3.3e-11,
  2.2e-11, 3.4e-11, 2.3e-11, 3.2e-11, 2.4e-11, 3.3e-11, 2.2e-11, 3.4e-11, 2.3e-11, 3.2e-11,
  2.4e-11, 3.3e-11, 2.2e-11, 3.4e-11, 2.3e-11, 3.2e-11, 2.4e-11, 3.3e-11, 2.2e-11, 3.4e-11,
];
const ST2_V1 = [
  3.0e-9, 3.35e-9, 5.9e-9, 5.5e-9, 2.2e-9, 2.5e-9, 2.9e-9, 1.6e-9, 6.0e-10, 3.4e-10,
  3.3e-10, 3.8e-10, 3.6e-10, 3.6e-10, 2.3e-10, 1.95e-10, 1.8e-10, 1.6e-10, 1.55e-10, 1.4e-10,
  1.3e-10, 1.25e-10, 1.15e-10, 1.05e-10, 9.7e-11, 1.15e-10, 8.1e-11, 9.0e-11, 8.8e-11, 1.1e-10,
  8.5e-11, 7.5e-11, 7.3e-11, 9.5e-11, 6.2e-11, 5.4e-11, 5.7e-11, 4.9e-11, 5.4e-11, 4.6e-11, 4.2e-11,
  4.4e-11, 4.9e-11, 4.1e-11, 4.6e-11, 3.9e-11, 4.5e-11, 4.0e-11, 4.7e-11, 4.1e-11, 4.8e-11,
  4.2e-11, 4.9e-11, 4.3e-11, 5.0e-11, 4.2e-11, 4.8e-11, 4.4e-11, 5.1e-11, 4.3e-11, 5.6e-11,
  4.5e-11, 5.2e-11, 4.4e-11, 5.0e-11, 4.6e-11, 5.3e-11, 4.5e-11, 5.2e-11, 4.7e-11, 5.4e-11,
  4.8e-11, 5.6e-11, 4.7e-11, 5.7e-11, 4.9e-11, 5.8e-11, 4.8e-11, 5.9e-11, 5.0e-11, 6.2e-11,
  5.0e-11, 6.0e-11, 5.1e-11, 6.3e-11, 5.0e-11, 6.1e-11, 5.2e-11, 6.4e-11, 5.1e-11, 6.2e-11,
];
const ST2_V1_HI = [
  4.8e-11, 6.6e-11, 4.6e-11, 6.8e-11, 4.7e-11, 6.5e-11, 4.5e-11, 6.7e-11, 4.8e-11, 6.6e-11,
  4.6e-11, 6.8e-11, 4.7e-11, 6.5e-11, 4.5e-11, 6.7e-11, 4.8e-11, 6.6e-11, 4.6e-11, 6.9e-11,
  4.7e-11, 6.5e-11, 4.5e-11, 6.8e-11, 4.8e-11, 6.6e-11, 4.6e-11, 6.9e-11, 4.7e-11, 6.5e-11,
  4.5e-11, 6.7e-11, 4.8e-11, 6.6e-11, 4.6e-11, 6.8e-11, 4.7e-11, 6.5e-11, 4.5e-11, 6.9e-11,
  4.8e-11, 6.6e-11, 4.6e-11, 6.8e-11, 4.7e-11, 6.5e-11, 4.5e-11, 6.7e-11, 4.8e-11, 6.6e-11,
  4.6e-11, 6.9e-11, 4.7e-11, 6.5e-11, 4.5e-11, 6.8e-11, 4.8e-11, 6.6e-11, 4.6e-11, 6.7e-11,
  4.7e-11, 6.5e-11, 4.5e-11, 6.9e-11, 4.8e-11, 6.6e-11, 4.6e-11, 7.0e-11, 4.7e-11, 6.5e-11,
  4.8e-11, 6.7e-11, 4.6e-11, 6.8e-11, 4.5e-11, 6.6e-11, 4.7e-11, 6.9e-11, 4.8e-11, 6.5e-11,
  4.6e-11, 6.8e-11, 4.7e-11, 6.6e-11, 4.5e-11, 6.9e-11, 4.8e-11, 6.5e-11, 4.6e-11, 6.7e-11,
  4.7e-11, 6.6e-11, 4.5e-11, 6.8e-11, 4.8e-11, 6.5e-11, 4.6e-11, 6.9e-11, 4.7e-11, 6.6e-11,
  4.5e-11, 6.8e-11, 4.8e-11, 6.5e-11, 4.6e-11, 6.7e-11, 4.7e-11, 6.9e-11, 4.5e-11, 6.6e-11,
  4.8e-11, 6.5e-11, 4.6e-11, 6.8e-11, 4.7e-11, 6.6e-11, 4.5e-11, 6.9e-11, 4.8e-11, 6.7e-11,
  4.6e-11, 6.6e-11, 4.7e-11, 6.8e-11, 4.5e-11, 6.5e-11, 4.8e-11, 7.0e-11, 4.6e-11, 6.7e-11,
  4.7e-11, 6.9e-11, 4.5e-11, 6.6e-11, 4.8e-11, 6.8e-11, 4.6e-11, 6.5e-11, 4.7e-11, 6.9e-11,
];
const ST2_V2 = [
  3.1e-9, 3.45e-9, 5.9e-9, 5.5e-9, 2.1e-9, 2.4e-9, 2.8e-9, 1.55e-9, 6.2e-10, 3.3e-10,
  3.6e-10, 4.2e-10, 4.7e-10, 3.9e-10, 3.1e-10, 2.2e-10, 2.0e-10, 1.65e-10, 1.6e-10, 1.4e-10,
  1.3e-10, 1.15e-10, 1.1e-10, 1.06e-10, 8.0e-11, 9.5e-11, 9.5e-11, 1.0e-10, 9.0e-11, 1.06e-10,
  8.3e-11, 8.9e-11, 8.3e-11, 5.9e-11, 4.9e-11, 4.2e-11, 4.0e-11, 3.7e-11, 3.7e-11, 3.2e-11, 3.0e-11,
  2.9e-11, 3.4e-11, 2.5e-11, 3.1e-11, 2.3e-11, 2.9e-11, 2.2e-11, 2.0e-11, 2.8e-11, 2.3e-11,
  2.9e-11, 2.2e-11, 3.0e-11, 2.3e-11, 2.8e-11, 2.1e-11, 3.0e-11, 2.2e-11, 2.9e-11, 2.1e-11,
  3.0e-11, 2.2e-11, 2.8e-11, 2.0e-11, 3.1e-11, 2.2e-11, 2.9e-11, 2.1e-11, 3.0e-11, 2.3e-11,
  2.9e-11, 2.1e-11, 3.1e-11, 2.2e-11, 3.0e-11, 2.0e-11, 2.9e-11, 2.2e-11, 3.2e-11, 2.1e-11,
  3.0e-11, 2.3e-11, 2.9e-11, 2.1e-11, 3.1e-11, 2.2e-11, 3.0e-11, 2.0e-11, 3.2e-11, 2.2e-11,
];
const ST2_V2_HI = [
  2.9e-11, 2.0e-11, 3.0e-11, 2.1e-11, 2.8e-11, 1.9e-11, 3.1e-11, 2.0e-11, 2.9e-11, 2.1e-11,
  3.0e-11, 1.9e-11, 2.8e-11, 2.1e-11, 3.1e-11, 2.0e-11, 2.9e-11, 1.9e-11, 3.0e-11, 2.1e-11,
  2.8e-11, 2.0e-11, 3.1e-11, 1.9e-11, 2.9e-11, 2.1e-11, 3.0e-11, 2.0e-11, 2.8e-11, 1.9e-11,
  3.1e-11, 2.1e-11, 2.9e-11, 2.0e-11, 3.0e-11, 1.9e-11, 2.8e-11, 2.1e-11, 3.1e-11, 2.0e-11,
  2.9e-11, 1.9e-11, 3.0e-11, 2.1e-11, 2.8e-11, 2.0e-11, 3.1e-11, 1.9e-11, 2.9e-11, 2.1e-11,
  3.0e-11, 2.0e-11, 2.8e-11, 1.9e-11, 3.1e-11, 2.1e-11, 2.9e-11, 2.0e-11, 3.0e-11, 1.9e-11,
  2.8e-11, 2.1e-11, 3.1e-11, 2.0e-11, 2.9e-11, 1.9e-11, 3.0e-11, 2.1e-11, 2.8e-11, 2.0e-11,
  3.1e-11, 1.9e-11, 2.9e-11, 2.1e-11, 3.0e-11, 2.0e-11, 2.8e-11, 1.9e-11, 3.1e-11, 2.1e-11,
  2.9e-11, 2.0e-11, 2.2e-10, 1.9e-11, 2.8e-11, 2.1e-11, 3.1e-11, 2.0e-11, 2.9e-11, 1.9e-11,
  3.0e-11, 2.1e-11, 2.8e-11, 2.0e-11, 3.1e-11, 1.9e-11, 2.9e-11, 2.1e-11, 3.0e-11, 2.0e-11,
  2.8e-11, 1.9e-11, 3.1e-11, 2.1e-11, 2.9e-11, 2.0e-11, 3.0e-11, 1.9e-11, 2.8e-11, 2.1e-11,
  3.1e-11, 2.0e-11, 2.9e-11, 1.9e-11, 3.0e-11, 2.1e-11, 2.8e-11, 2.0e-11, 3.1e-11, 1.9e-11,
  2.9e-11, 2.1e-11, 3.0e-11, 2.0e-11, 2.8e-11, 1.9e-11, 3.1e-11, 2.1e-11, 2.9e-11, 2.0e-11,
  3.0e-11, 1.9e-11, 2.8e-11, 2.1e-11, 4.3e-10, 2.0e-11, 2.9e-11, 1.8e-11, 3.0e-11, 2.1e-11,
];
const ST2_V3 = [
  3.23e-9, 3.65e-9, 6.3e-9, 5.85e-9, 2.25e-9, 2.6e-9, 3.1e-9, 1.7e-9, 5.8e-10, 3.3e-10,
  3.2e-10, 3.4e-10, 3.6e-10, 3.2e-10, 2.4e-10, 1.3e-10, 1.5e-10, 1.15e-10, 1.4e-10, 1.1e-10,
  1.0e-10, 9.5e-11, 9.3e-11, 8.8e-11, 8.2e-11, 1.15e-10, 1.3e-10, 1.5e-10, 1.1e-10, 1.2e-10,
  1.6e-10, 1.14e-10, 8.5e-11, 7.6e-11, 6.2e-11, 4.9e-11, 4.6e-11, 4.2e-11, 3.9e-11, 3.7e-11, 3.2e-11,
  3.0e-11, 3.9e-11, 3.1e-11, 3.6e-11, 2.7e-11, 3.5e-11, 2.6e-11, 3.8e-11, 2.8e-11, 3.5e-11,
  2.7e-11, 3.6e-11, 2.6e-11, 3.4e-11, 2.8e-11, 3.7e-11, 2.7e-11, 3.5e-11, 2.9e-11, 3.8e-11,
  2.8e-11, 3.6e-11, 2.7e-11, 3.9e-11, 2.9e-11, 3.7e-11, 2.8e-11, 4.0e-11, 2.9e-11, 3.8e-11,
  3.0e-11, 4.1e-11, 2.9e-11, 4.2e-11, 3.0e-11, 4.0e-11, 3.1e-11, 4.3e-11, 3.0e-11, 4.4e-11,
  3.1e-11, 4.6e-11, 3.2e-11, 4.4e-11, 3.0e-11, 4.8e-11, 3.1e-11, 1.4e-10, 3.2e-11, 4.5e-11,
];
const ST2_V3_HI = [
  3.2e-11, 1.4e-10, 3.1e-11, 4.6e-11, 3.3e-11, 4.7e-11, 1.6e-10, 3.2e-11, 4.5e-11, 3.1e-11,
  4.7e-11, 3.3e-11, 1.9e-10, 3.2e-11, 4.6e-11, 3.1e-11, 4.8e-11, 3.3e-11, 4.6e-11, 6.5e-10,
  1.5e-10, 3.2e-11, 4.7e-11, 3.1e-11, 4.6e-11, 2.3e-10, 3.3e-11, 4.8e-11, 1.6e-10, 3.2e-11,
  4.6e-11, 3.1e-11, 2.0e-10, 3.3e-11, 4.7e-11, 3.2e-11, 4.6e-11, 3.1e-11, 2.1e-10, 3.3e-11,
  4.7e-11, 3.2e-11, 1.6e-10, 3.1e-11, 4.8e-11, 3.3e-11, 1.3e-10, 3.2e-11, 4.6e-11, 3.1e-11,
  4.7e-11, 3.3e-11, 4.6e-11, 1.1e-10, 3.2e-11, 4.8e-11, 3.1e-11, 4.6e-11, 3.3e-11, 4.7e-11,
  3.2e-11, 4.6e-11, 3.1e-11, 4.8e-11, 3.3e-11, 4.7e-11, 3.2e-11, 4.6e-11, 3.1e-11, 4.8e-11,
  3.3e-11, 4.6e-11, 3.2e-11, 4.7e-11, 3.1e-11, 4.8e-11, 3.3e-11, 4.6e-11, 3.2e-11, 4.7e-11,
  3.1e-11, 4.8e-11, 3.3e-11, 4.6e-11, 3.2e-11, 4.7e-11, 3.1e-11, 4.8e-11, 3.3e-11, 4.6e-11,
  3.2e-11, 4.7e-11, 3.1e-11, 4.8e-11, 3.3e-11, 4.6e-11, 3.2e-11, 4.7e-11, 3.1e-11, 4.8e-11,
  3.3e-11, 4.6e-11, 3.2e-11, 4.7e-11, 3.1e-11, 4.8e-11, 3.3e-11, 4.6e-11, 3.2e-11, 4.7e-11,
  3.1e-11, 4.8e-11, 3.3e-11, 4.6e-11, 3.2e-11, 4.7e-11, 3.1e-11, 4.8e-11, 3.3e-11, 4.6e-11,
  3.2e-11, 4.7e-11, 3.1e-11, 4.8e-11, 3.3e-11, 4.6e-11, 3.2e-11, 4.7e-11, 3.1e-11, 4.8e-11,
  3.3e-11, 4.6e-11, 3.2e-11, 4.7e-11, 3.1e-11, 4.8e-11, 3.3e-11, 4.6e-11, 3.2e-11, 4.7e-11,
];

// ADE sensor noise models
const ADE_FREQ = [0.01, 0.1, 0.7, 100];
const ADE_1MM = [5e-9, 1e-9, 4e-10, 4e-10];
const ADE_025MM = [7.5e-10, 1.5e-10, 6e-11, 6e-11];

const ST1_LABELS = [
  "BS_ST1_CPSINF_H1_I", "BS_ST1_CPSINF_H2_I", "BS_ST1_CPSINF_H3_I",
  "BS_ST1_CPSINF_V1_I", "BS_ST1_CPSINF_V2_I", "BS_ST1_CPSINF_V3_I", "ADE 1mm noise",
];
const ST2_LABELS = [
  "BS_ST2_CPSINF_H1_I", "BS_ST2_CPSINF_H2_I", "BS_ST2_CPSINF_H3_I",
  "BS_ST2_CPSINF_V1_I", "BS_ST2_CPSINF_V2_I", "BS_ST2_CPSINF_V3_I", "ADE .25mm noise",
];
const COLORS = ["#1f77b4", "#ff7f0e", "#2ca02c", "#d62728", "#9467bd", "#8c564b", "#e377c2"];

// ticks
const X_TICKS = [
  0.01, 0.02, 0.03, 0.04, 0.05, 0.06, 0.07, 0.08, 0.09,
  0.1, 0.2, 0.3, 0.4, 0.5, 0.6, 0.7, 0.8, 0.9,
  1, 2, 3, 4, 5, 6, 7, 8, 9,
  10, 20, 30, 40, 50, 60, 70, 80, 90,
  100, 200,
];
const X_MAJOR = [0.01, 0.1, 1, 10, 100];
const X_MAJOR_LABELS = ["10⁻²", "10⁻¹", "10⁰", "10¹", "10²"];

const Y1_TICKS = [
  5e-11, 6e-11, 7e-11, 8e-11, 9e-11,
  1e-10, 2e-10, 3e-10, 4e-10, 5e-10, 6e-10, 7e-10, 8e-10, 9e-10,
  1e-9, 2e-9, 3e-9, 4e-9, 5e-9, 6e-9, 7e-9, 8e-9, 9e-9,
  1e-8, 2e-8, 3e-8, 4e-8, 5e-8, 6e-8, 7e-8, 8e-8, 9e-8,
  1e-7,
];
const Y1_MAJOR = [1e-10, 1e-9, 1e-8, 1e-7];
const Y1_MAJOR_LABELS = ["10⁻¹⁰", "10⁻⁹", "10⁻⁸", "10⁻⁷"];

const Y2_TICKS = [
  4e-12, 5e-12, 6e-12, 7e-12, 8e-12, 9e-12,
  1e-11, 2e-11, 3e-11, 4e-11, 5e-11, 6e-11, 7e-11, 8e-11, 9e-11,
  1e-10, 2e-10, 3e-10, 4e-10, 5e-10, 6e-10, 7e-10, 8e-10, 9e-10,
  1e-9, 2e-9, 3e-9, 4e-9, 5e-9, 6e-9, 7e-9, 8e-9, 9e-9,
  1e-8, 2e-8, 3e-8, 4e-8, 5e-8, 6e-8, 7e-8, 8e-8, 9e-8,
];
const Y2_MAJOR = [1e-11, 1e-10, 1e-9, 1e-8];
const Y2_MAJOR_LABELS = ["10⁻¹¹", "10⁻¹⁰", "10⁻⁹", "10⁻⁸"];

// ---------------- drawing ----------------
const LINE_W = 5;
const LEGEND_SIZE = 27.8;

function isDecade(v: number) {
  const l = Math.log10(v);
  return Math.abs(l - Math.round(l)) < 1e-6;
}
function majorLabel(v: number, majors: number[], labels: string[]) {
  const i = majors.findIndex((m) => Math.abs(v / m - 1) < 1e-6);
  return i >= 0 ? labels[i] : "";
}

const decorPlugin = {
  id: "decor",
  afterDatasetsDraw(chart: any, _args: any, opts: any) {
    const { ctx, chartArea: a } = chart;
    const xs = chart.scales.x;
    const ys = chart.scales.y;
    ctx.save();
    // tick marks
    ctx.strokeStyle = "#000";
    ctx.lineWidth = 1.1;
    ctx.beginPath();
    xs.ticks.forEach((t: any) => {
      const px = Math.round(xs.getPixelForValue(t.value)) + 0.5;
      const len = isDecade(t.value) ? 4.9 : 2.8;
      ctx.moveTo(px, a.bottom);
      ctx.lineTo(px, a.bottom + len);
    });
    ys.ticks.forEach((t: any) => {
      const py = Math.round(ys.getPixelForValue(t.value)) + 0.5;
      const len = isDecade(t.value) ? 4.9 : 2.8;
      ctx.moveTo(a.left, py);
      ctx.lineTo(a.left - len, py);
    });
    ctx.stroke();
    // frame
    ctx.strokeRect(Math.round(a.left) + 0.5, Math.round(a.top) + 0.5, Math.round(a.right - a.left), Math.round(a.bottom - a.top));

    // axes title, centred over the axes
    ctx.fillStyle = "#000";
    ctx.font = `27.8px ${FONT}`;
    ctx.textAlign = "center";
    ctx.textBaseline = "alphabetic";
    ctx.fillText(opts.title, (a.left + a.right) / 2, a.top - 8.3);

    // legend (inside, upper right)
    const ds = chart.data.datasets;
    ctx.font = `${LEGEND_SIZE}px ${FONT}`;
    const tw = Math.max(...ds.map((d: any) => ctx.measureText(d.label).width));
    const w = 90 + tw + 12;
    const h = 22 + 43 * (ds.length - 1) + 26;
    const right = a.right - 14;
    const top = a.top + 15;
    const left = right - w;
    ctx.beginPath();
    ctx.roundRect(left, top, w, h, 8);
    ctx.fillStyle = "rgba(255,255,255,0.8)";
    ctx.fill();
    ctx.strokeStyle = "rgba(204,204,204,0.8)";
    ctx.lineWidth = 1;
    ctx.stroke();
    ds.forEach((d: any, i: number) => {
      const y = top + 22 + 43 * i;
      ctx.strokeStyle = d.borderColor;
      ctx.lineWidth = LINE_W;
      ctx.lineCap = "butt";
      ctx.beginPath();
      ctx.moveTo(left + 8, y);
      ctx.lineTo(left + 68, y);
      ctx.stroke();
      ctx.fillStyle = "#000";
      ctx.textAlign = "left";
      ctx.textBaseline = "alphabetic";
      ctx.fillText(d.label, left + 90, y + 10);
    });
    ctx.restore();
  },
};

function buildChart(
  canvas: HTMLCanvasElement,
  title: string,
  labels: string[],
  lo: number[][],
  hi: number[][],
  ade: number[],
  yMin: number,
  yMax: number,
  yTicks: number[],
  yMajor: number[],
  yMajorLabels: string[]
) {
  const n = lo.length + 1;
  const datasets: any[] = lo.map((vals, i) => ({
    label: labels[i],
    data: [
      ...FREQ.map((x, j) => ({ x, y: vals[j] })),
      ...FREQ_HI.map((x, j) => ({ x, y: hi[i][j] })),
    ],
    borderColor: COLORS[i],
    backgroundColor: COLORS[i],
    borderWidth: LINE_W,
    pointRadius: 0,
    pointHoverRadius: 0,
    tension: 0,
    fill: false,
    clip: 0,
    borderJoinStyle: "round",
    order: n - i,
  }));
  datasets.push({
    label: labels[lo.length],
    data: ADE_FREQ.map((x, j) => ({ x, y: ade[j] })),
    borderColor: COLORS[6],
    backgroundColor: COLORS[6],
    borderWidth: LINE_W,
    pointRadius: 0,
    pointHoverRadius: 0,
    tension: 0,
    fill: false,
    clip: 0,
    borderJoinStyle: "round",
    order: 0,
  });

  const gridOpts = { color: "#b0b0b0", lineWidth: 1, drawTicks: false };
  const tickFont = { family: FONT, size: 15 };
  const labelFont = { family: FONT, size: 25 };

  return new Chart(canvas, {
    type: "line",
    data: { datasets },
    options: {
      responsive: false,
      animation: false,
      devicePixelRatio: 1,
      events: [],
      layout: { padding: { left: 219, right: 240, top: 192, bottom: 0 } },
      plugins: {
        legend: { display: false },
        tooltip: { enabled: false },
        title: { display: false },
        decor: { title },
      },
      scales: {
        x: {
          type: "logarithmic",
          min: 0.01,
          max: 200,
          afterBuildTicks: (s: any) => {
            s.ticks = X_TICKS.map((v) => ({ value: v }));
          },
          afterFit: (s: any) => {
            s.height = 61;
          },
          grid: gridOpts,
          border: { display: false },
          ticks: {
            autoSkip: false,
            maxRotation: 0,
            minRotation: 0,
            padding: 9,
            color: "#000",
            font: tickFont,
            callback: (v: any) => majorLabel(Number(v), X_MAJOR, X_MAJOR_LABELS),
          },
          title: { display: true, text: "Freq (hz)", color: "#000", font: labelFont, padding: 0 },
        },
        y: {
          type: "logarithmic",
          min: yMin,
          max: yMax,
          afterBuildTicks: (s: any) => {
            s.ticks = yTicks.map((v) => ({ value: v }));
          },
          afterFit: (s: any) => {
            s.width = 81;
          },
          grid: gridOpts,
          border: { display: false },
          ticks: {
            autoSkip: false,
            padding: 10,
            color: "#000",
            font: tickFont,
            callback: (v: any) => majorLabel(Number(v), yMajor, yMajorLabels),
          },
          title: { display: true, text: "m/rthz", color: "#000", font: labelFont, padding: 0 },
        },
      },
    } as any,
    plugins: [decorPlugin],
  });
}

export default function App() {
  const topRef = useRef<HTMLCanvasElement>(null);
  const botRef = useRef<HTMLCanvasElement>(null);

  useEffect(() => {
    Chart.defaults.font.family = FONT;
    const c1 = buildChart(
      topRef.current!, "BS_ST1", ST1_LABELS,
      [ST1_H1, ST1_H2, ST1_H3, ST1_V1, ST1_V2, ST1_V3],
      [ST1_H1_HI, ST1_H2_HI, ST1_H3_HI, ST1_V1_HI, ST1_V2_HI, ST1_V3_HI],
      ADE_1MM, 4.7e-11, 1.83e-7, Y1_TICKS, Y1_MAJOR, Y1_MAJOR_LABELS
    );
    const c2 = buildChart(
      botRef.current!, "BS_ST2", ST2_LABELS,
      [ST2_H1, ST2_H2, ST2_H3, ST2_V1, ST2_V2, ST2_V3],
      [ST2_H1_HI, ST2_H2_HI, ST2_H3_HI, ST2_V1_HI, ST2_V2_HI, ST2_V3_HI],
      ADE_025MM, 3.27e-12, 9.5e-8, Y2_TICKS, Y2_MAJOR, Y2_MAJOR_LABELS
    );
    return () => {
      c1.destroy();
      c2.destroy();
    };
  }, []);

  return (
    <div
      style={{
        position: "absolute", left: 0, top: 0, width: 2400, height: 1600,
        background: "#fff", overflow: "hidden", fontFamily: FONT, color: "#000",
      }}
    >
      <div
        style={{
          position: "absolute", left: 0, top: 26, width: 2400, textAlign: "center",
          fontSize: 36, lineHeight: "43px",
        }}
      >
        CPS Spectra
        <br />
        1242032400 to 1242033000
      </div>
      <canvas
        ref={topRef}
        width={2400}
        height={813}
        style={{ position: "absolute", left: 0, top: 0, width: 2400, height: 813 }}
      />
      <canvas
        ref={botRef}
        width={2400}
        height={813}
        style={{ position: "absolute", left: 0, top: 672, width: 2400, height: 813 }}
      />
      <div
        style={{
          position: "absolute", left: 2291, top: 884, fontSize: 17, whiteSpace: "nowrap",
          transform: "translate(-50%, -50%) rotate(-90deg)",
        }}
      >
        /opt/rtcds/userapps/trunk/sys/h1/scripts/BSC_cps_spectra.py
      </div>
    </div>
  );
}
